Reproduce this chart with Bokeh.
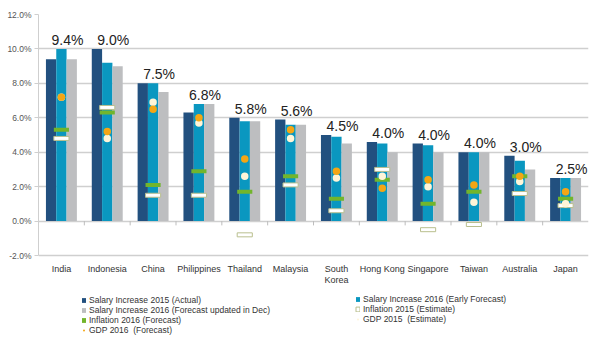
import numpy as np
from bokeh.plotting import figure
from bokeh.models import (Legend, LegendItem, FixedTicker, PrintfTickFormatter,
                          ColumnDataSource)
from bokeh.core.properties import value
from bokeh.embed import file_html
from bokeh.resources import INLINE

categories = ["India", "Indonesia", "China", "Philippines", "Thailand", "Malaysia",
              "South\nKorea", "Hong Kong", "Singapore", "Taiwan", "Australia", "Japan"]
salary_2015_actual = [9.4, 10.0, 8.0, 6.3, 6.0, 5.9, 5.0, 4.6, 4.5, 4.0, 3.8, 2.5]
salary_2016_early = [10.0, 9.2, 8.0, 6.8, 5.8, 5.6, 4.9, 4.5, 4.4, 4.0, 3.5, 2.5]
salary_2016_dec = [9.4, 9.0, 7.5, 6.8, 5.8, 5.6, 4.5, 4.0, 4.0, 4.0, 3.0, 2.5]
inflation_2015 = [4.8, 6.6, 1.5, 1.5, -0.8, 2.1, 0.6, 3.0, -0.5, -0.2, 1.6, 0.9]
inflation_2016 = [5.3, 6.3, 2.1, 2.9, 1.7, 2.6, 1.3, 2.4, 1.0, 1.7, 2.6, 1.3]
gdp_2015 = [7.2, 4.8, 6.9, 5.7, 2.6, 4.8, 2.5, 2.6, 2.0, 1.1, 2.3, 1.0]
gdp_2016 = [7.2, 5.2, 6.5, 6.0, 3.6, 5.3, 2.9, 1.9, 2.4, 2.1, 2.6, 1.7]
y_ticks = [-2, 0, 2, 4, 6, 8, 10, 12]

FONT = "Liberation Sans Narrow, Liberation Sans, Arial, sans-serif"
C_DARK = "#22507f"
C_TEAL = "#0a97c0"
C_GREY = "#bdbec0"
C_GREEN = "#72b52c"
C_ORANGE = "#f4a614"
C_CREAM = "#fff5d8"
GRID = "#cfcfcf"

W, H = 600, 345
TOP, BOTTOM_AXIS = 14, 255          # pixel rows of the 12% and -2% lines
px_per_unit = (BOTTOM_AXIS - TOP) / (y_ticks[-1] - y_ticks[0])
y_start = y_ticks[0] - (H - BOTTOM_AXIS) / px_per_unit   # frame extends to bottom edge

n = len(categories)
x = np.arange(n)
bw = 0.225

src = ColumnDataSource(dict(
    x=x, xl=x - bw, xr=x + bw,
    s15=salary_2015_actual, s16e=salary_2016_early, s16d=salary_2016_dec,
    inf15=inflation_2015, inf16=inflation_2016, g15=gdp_2015, g16=gdp_2016,
    top=np.maximum.reduce([salary_2015_actual, salary_2016_early, salary_2016_dec]),
    lab=[f"{v:.1f}%" for v in salary_2016_dec],
    cat=categories, base=[y_ticks[0]] * n,
))

p = figure(width=W, height=H, output_backend="svg", toolbar_location=None,
           x_range=(-0.5, n - 0.5), y_range=(y_start, y_ticks[-1]),
           min_border_left=38, min_border_right=12, min_border_top=TOP,
           min_border_bottom=0)
p.outline_line_color = None
p.background_fill_color = "white"
p.xaxis.visible = False

r1 = p.vbar(x="xl", top="s15", bottom=0, width=bw, source=src, fill_color=C_DARK, line_color=None)
r2 = p.vbar(x="x", top="s16e", bottom=0, width=bw, source=src, fill_color=C_TEAL, line_color=None)
r3 = p.vbar(x="xr", top="s16d", bottom=0, width=bw, source=src, fill_color=C_GREY, line_color=None)

r4 = p.rect(x="x", y="inf15", width=0.33, height=4, height_units="screen", source=src,
            fill_color="white", line_color="#b9bf8e", line_width=1)
r5 = p.rect(x="x", y="inf16", width=0.33, height=4, height_units="screen", source=src,
            fill_color=C_GREEN, line_color=None)
r6 = p.scatter(x="x", y="g15", size=7.5, source=src, fill_color=C_CREAM, line_color=None)
r7 = p.scatter(x="x", y="g16", size=7.5, source=src, fill_color=C_ORANGE, line_color=None)

# value labels above each group
p.text(x="x", y="top", text="lab", source=src, text_font=value(FONT),
       text_font_size="14px", text_color="#222222", text_align="center",
       text_baseline="middle", x_offset=6, y_offset=-9)

# category labels below the -2% line
p.text(x="x", y="base", text="cat", source=src, text_font=value(FONT),
       text_font_size="9px", text_color="#333333", text_align="center",
       text_baseline="top", y_offset=8, text_line_height=1.15)

# tick marks on the zero line between categories
p.segment(x0=x[:-1] + 0.5, y0=0, x1=x[:-1] + 0.5, y1=-0.25, line_color="#bdbdbd", line_width=1)

p.xgrid.grid_line_color = None
p.ygrid.grid_line_color = GRID
p.ygrid.grid_line_width = 1.5
p.ygrid.ticker = FixedTicker(ticks=y_ticks)

p.yaxis.ticker = FixedTicker(ticks=y_ticks)
p.yaxis.bounds = (y_ticks[0], y_ticks[-1])
p.yaxis.formatter = PrintfTickFormatter(format="%.1f%%")
p.yaxis.axis_line_color = GRID
p.yaxis.major_tick_line_color = GRID
p.yaxis.major_tick_out = 4
p.yaxis.major_tick_in = 0
p.yaxis.minor_tick_line_color = None
p.yaxis.major_label_text_font = FONT
p.yaxis.major_label_text_font_size = "8.5px"
p.yaxis.major_label_text_color = "#555555"
p.yaxis.major_label_standoff = 3


def make_legend(items, loc):
    lg = Legend(items=items, location=loc, orientation="vertical",
                padding=0, margin=0, spacing=0, label_height=10, glyph_height=6,
                glyph_width=5, label_standoff=3, background_fill_alpha=0,
                border_line_color=None, label_text_font=FONT,
                label_text_font_size="8.5px", label_text_color="#333333",
                label_text_baseline="middle")
    p.add_layout(lg, "center")


make_legend([
    LegendItem(label="Salary Increase 2015 (Actual)", renderers=[r1]),
    LegendItem(label="Salary Increase 2016 (Forecast updated in Dec)", renderers=[r3]),
    LegendItem(label="Inflation 2016 (Forecast)", renderers=[r5]),
    LegendItem(label="GDP 2016  (Forecast)", renderers=[r7]),
], (43, 10))
make_legend([
    LegendItem(label="Salary Increase 2016 (Early Forecast)", renderers=[r2]),
    LegendItem(label="Inflation 2015 (Estimate)", renderers=[r4]),
    LegendItem(label="GDP 2015  (Estimate)", renderers=[r6]),
], (317, 21))

open("out.html", "w").write(file_html(p, INLINE))
